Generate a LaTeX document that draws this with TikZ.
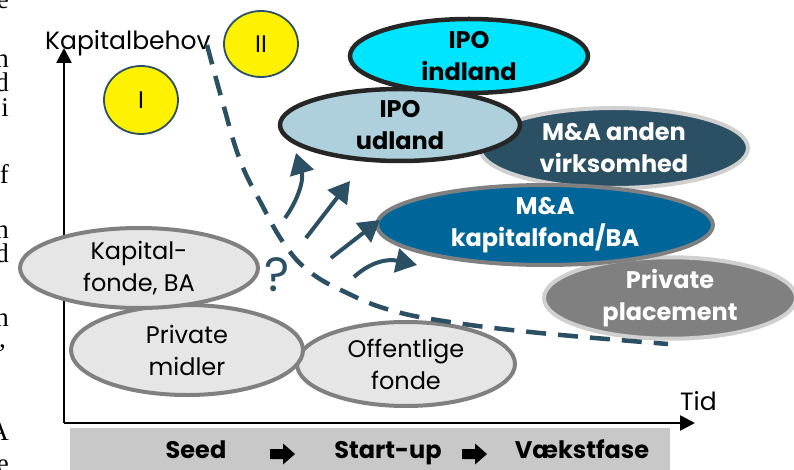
\documentclass[tikz,border=0pt]{standalone}
\usepackage{fontspec}
\setmainfont{Poppins}
\newfontfamily\marginserif{Liberation Serif}
\usetikzlibrary{shapes.geometric,arrows.meta}

\definecolor{slate}{HTML}{2B4F63}
\definecolor{ipocyan}{HTML}{00E5FF}
\definecolor{ipoblue}{HTML}{ADD0DC}
\definecolor{mablue}{HTML}{006699}
\definecolor{lightfill}{HTML}{E6E6E6}
\definecolor{midgrey}{HTML}{808080}
\definecolor{palegrey}{HTML}{D0D0D0}
\definecolor{bandgrey}{HTML}{C8C8C8}
\definecolor{edgeblack}{HTML}{262626}

\tikzset{bubble/.style={ellipse, inner sep=0pt, outer sep=0pt, align=center, line width=4pt, font=\fontsize{24}{32}\selectfont}}
\tikzset{light_bubble/.style={bubble, fill=lightfill, draw=midgrey}}
\tikzset{ipo_bubble/.style={bubble, draw=edgeblack, line width=4.5pt, font=\fontsize{24}{32}\selectfont\bfseries}}
\tikzset{ma_bubble/.style={bubble, text=white, font=\fontsize{24}{32}\selectfont\bfseries}}
\tikzset{phase_bubble/.style={ellipse, inner sep=0pt, fill=yellow, draw=slate, line width=1.8pt, font=\fontsize{24}{28}\selectfont}}
\tikzset{flow_arrow/.style={color=slate, line width=4pt, -{Triangle[length=21pt,width=24pt]}}}
\tikzset{axis_arrow/.style={line width=2.6pt, -{Triangle[length=15pt,width=15pt]}}}
\tikzset{margin_text/.style={anchor=base east, inner sep=0pt, font=\marginserif\fontsize{27}{27}\selectfont}}

\begin{document}
\begin{tikzpicture}[x=1pt,y=-1pt]
  \useasboundingbox (0,0) rectangle (794,470);
  % cut-off text of the page on the left
  \foreach \ch/\yy [count=\i] in {e/9,n/68,d/92,i/117,f/184,n/238,d/262,n/326,A/440,e/472}
    \node[margin_text] (m\i) at (9,\yy) {\ch};
  \node[margin_text] (mcomma) at (6,347) {,};

  % axes
  \coordinate (origin) at (64,423);
  \coordinate (ytop) at (64,48);
  \coordinate (xend) at (695,423);
  \draw[axis_arrow] (origin) -- (ytop);
  \draw[axis_arrow] (origin) -- (xend);
  \node[anchor=base west, inner sep=0pt, font=\fontsize{25}{25}\selectfont] (ylab) at (45,50) {Kapitalbehov};
  \node[anchor=base west, inner sep=0pt, font=\fontsize{25}{25}\selectfont] (xlab) at (680,410) {Tid};

  % stages
  \fill[bandgrey] (70,428) rectangle (670,470);
  \node[anchor=base, inner sep=0pt, font=\fontsize{24}{24}\selectfont\bfseries] (seed) at (196,458) {Seed};
  \node[anchor=base, inner sep=0pt, font=\fontsize{24}{24}\selectfont\bfseries] (startup) at (388,458) {Start-up};
  \node[anchor=base, inner sep=0pt, font=\fontsize{24}{24}\selectfont\bfseries] (vaekst) at (582,458) {Vækstfase};
  \foreach \n/\xx in {1/282,2/474}{
    \coordinate (s\n) at (\xx,454);
    \fill ([shift={(-12,-5)}]s\n) -- ++(13,0) -- ++(0,-5.5) -- ++(12,10.5) -- ++(-12,10.5) -- ++(0,-5.5) -- ++(-13,0) -- cycle;
  }

  % phases
  \node[phase_bubble, minimum width=74pt, minimum height=68pt] (ph1) at (141,100) {I};
  \node[phase_bubble, minimum width=74pt, minimum height=66pt] (ph2) at (261,44) {II};

  % early financing
  \node[light_bubble, minimum width=218pt, minimum height=84pt] (offfonde) at (406,364) {Offentlige\\fonde};
  \node[light_bubble, minimum width=232pt, minimum height=90pt] (privmid) at (187,350) {Private\\midler};
  \node[light_bubble, minimum width=238pt, minimum height=80pt] (kapfonde) at (139,268) {Kapital-\\fonde, BA};

  % exits
  \node[ipo_bubble, fill=ipocyan, minimum width=238pt, minimum height=74pt] (ipoind) at (469,56) {IPO\\indland};
  \node[ma_bubble, fill=slate, draw=palegrey, minimum width=268pt, minimum height=80pt] (maanden) at (614,148) {M\&A anden\\virksomhed};
  \node[ipo_bubble, fill=ipoblue, minimum width=240pt, minimum height=72pt] (ipoud) at (400,125) {IPO\\udland};
  \node[ma_bubble, fill=midgrey, draw=palegrey, minimum width=252pt, minimum height=80pt] (pplace) at (670,298) {Private\\placement};
  \node[ma_bubble, fill=mablue, draw=midgrey, minimum width=336pt, minimum height=80pt] (makap) at (545,225) {M\&A\\kapitalfond/BA};

  % border between the phases
  \draw[slate, line width=4.5pt, dash pattern=on 20pt off 12pt]
    plot[smooth, tension=0.7] coordinates {(207,45) (222,100) (240,160) (262,205) (285,245) (310,272) (345,292) (390,310) (450,322) (540,333) (668,344)};

  % ways out
  \node[text=slate, inner sep=0pt, font=\fontsize{48}{48}\selectfont] (quest) at (277,275) {?};
  \coordinate (a1s) at (285,218);
  \coordinate (a1e) at (296,153);
  \coordinate (a2s) at (306,238);
  \coordinate (a2e) at (350,181);
  \coordinate (a3s) at (331,258);
  \coordinate (a3e) at (380,220);
  \coordinate (a4s) at (354,277);
  \coordinate (a4e) at (417,265);
  \draw[flow_arrow] (a1s) .. controls (298,200) and (304,180) .. (a1e);
  \draw[flow_arrow] (a2s) -- (a2e);
  \draw[flow_arrow] (a3s) -- (a3e);
  \draw[flow_arrow] (a4s) .. controls (368,264) and (385,258) .. (a4e);
\end{tikzpicture}
\end{document}
